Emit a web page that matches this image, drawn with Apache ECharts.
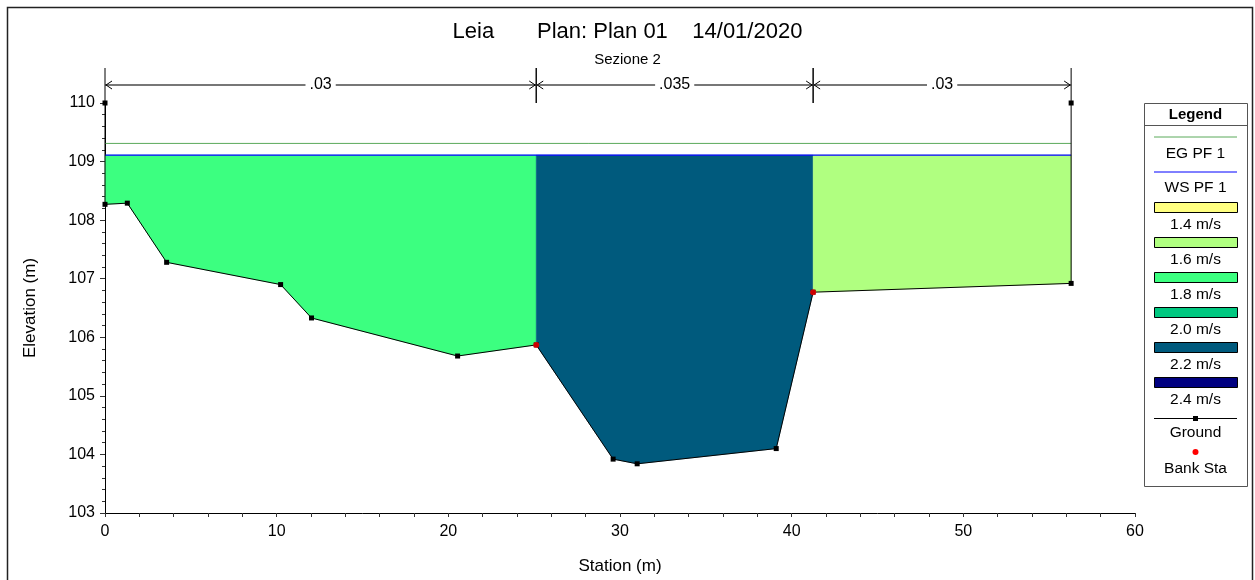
<!DOCTYPE html>
<html>
<head>
<meta charset="utf-8">
<script src="https://cdn.jsdelivr.net/npm/echarts@6/dist/echarts.min.js"></script>
<style>
  html, body { margin: 0; padding: 0; background: #fff; }
  #chart { width: 1255px; height: 580px; }
</style>
</head>
<body>
<div id="chart"></div>
<script>
// Cross section "Sezione 2" – ground profile, water surface and velocity zones
const groundStation = [0, 0, 1.30, 3.59, 10.23, 12.03, 20.54, 25.12, 29.6, 31.0, 39.1, 41.25, 56.28, 56.28];
const groundElev    = [110.0, 108.27, 108.29, 107.28, 106.90, 106.33, 105.68, 105.87, 103.92, 103.84, 104.10, 106.77, 106.92, 110.0];
const bankStations  = [25.12, 41.25];
const bankElev      = [105.87, 106.77];
const wsElev = 109.11;   // WS PF 1
const egElev = 109.31;   // EG PF 1

// Manning's n subdivisions
const nBreaks = [0, 25.12, 41.25, 56.28];
const nLabels = ['.03', '.035', '.03'];
const subVelocity = [1.8, 2.2, 1.6];

// Velocity classes
const velClasses = [1.4, 1.6, 1.8, 2.0, 2.2, 2.4];
const velColors  = ['#FFFF80', '#B0FF80', '#3CFF80', '#00C880', '#005A7D', '#000080'];
const velLabels  = ['1.4 m/s', '1.6 m/s', '1.8 m/s', '2.0 m/s', '2.2 m/s', '2.4 m/s'];

const xTicks = [0, 10, 20, 30, 40, 50, 60];
const yTicks = [103, 104, 105, 106, 107, 108, 109, 110];

const FONT = '"Liberation Sans", Arial, sans-serif';
const EG_COLOR = '#5BAA5B';
const groundPts = groundStation.map((s, i) => [s, groundElev[i]]);
const colorFor = v => velColors[velClasses.indexOf(v)];

// Polygon between water surface and ground for one subsection
function subsectionPolygon(a, b) {
  const pts = [[a, wsElev]];
  groundPts.forEach(p => { if (p[0] >= a && p[0] <= b && p[1] <= wsElev) pts.push(p); });
  pts.push([b, wsElev]);
  return pts;
}

// Legend drawn as a boxed column: symbol above, label below
const LX = 1144, LY = 103, LW = 103, LH = 383;
const legendEls = [
  { type: 'rect', shape: { x: LX + 0.5, y: LY + 0.5, width: LW, height: LH }, style: { fill: '#fff', stroke: '#555', lineWidth: 1 } },
  { type: 'line', shape: { x1: LX, y1: LY + 22.5, x2: LX + LW, y2: LY + 22.5 }, style: { stroke: '#555', lineWidth: 1 } },
  { type: 'text', x: LX + LW / 2, y: LY + 11.5, style: { text: 'Legend', font: 'bold 15px ' + FONT, fill: '#000', align: 'center', verticalAlign: 'middle' } }
];
const symX1 = LX + 10, symX2 = LX + 93, cx = LX + LW / 2;
let yy = 137;
function legendText(t, y) {
  legendEls.push({ type: 'text', x: cx, y: y, style: { text: t, font: '15.5px ' + FONT, fill: '#000', align: 'center', verticalAlign: 'middle' } });
}
legendEls.push({ type: 'line', shape: { x1: symX1, y1: yy, x2: symX2, y2: yy }, style: { stroke: EG_COLOR, lineWidth: 1 } });
legendText('EG PF 1', yy + 17);
yy += 35;
legendEls.push({ type: 'line', shape: { x1: symX1, y1: yy, x2: symX2, y2: yy }, style: { stroke: '#0000FF', lineWidth: 1 } });
legendText('WS PF 1', yy + 16);
yy += 30;
velLabels.forEach((lab, i) => {
  legendEls.push({ type: 'rect', shape: { x: symX1 + 0.5, y: yy + 0.5, width: symX2 - symX1, height: 10 }, style: { fill: velColors[i], stroke: '#000', lineWidth: 1 } });
  legendText(lab, yy + 23);
  yy += 35;
});
yy += 6;
legendEls.push({ type: 'line', shape: { x1: symX1, y1: yy + 0.5, x2: symX2, y2: yy + 0.5 }, style: { stroke: '#000', lineWidth: 1 } });
legendEls.push({ type: 'rect', shape: { x: cx - 2.5, y: yy - 2, width: 5, height: 5 }, style: { fill: '#000' } });
legendText('Ground', yy + 15);
legendEls.push({ type: 'circle', shape: { cx: cx, cy: yy + 34, r: 3 }, style: { fill: '#FF0000' } });
legendText('Bank Sta', yy + 51);

const chart = echarts.init(document.getElementById('chart'));
chart.setOption({
  animation: false,
  backgroundColor: '#fff',
  title: [
    { text: 'Leia       Plan: Plan 01    14/01/2020', left: 'center', top: 16,
      textStyle: { fontFamily: FONT, fontSize: 22, fontWeight: 'normal', color: '#000' } },
    { text: 'Sezione 2', left: 'center', top: 47,
      textStyle: { fontFamily: FONT, fontSize: 15, fontWeight: 'normal', color: '#000' } }
  ],
  grid: { left: 105, right: 120, top: 103, bottom: 62, containLabel: false },
  xAxis: {
    type: 'value', min: xTicks[0], max: xTicks[xTicks.length - 1], interval: 10,
    name: 'Station (m)', nameLocation: 'middle', nameGap: 45,
    nameTextStyle: { fontFamily: FONT, fontSize: 17, color: '#000' },
    axisLine: { show: true, lineStyle: { color: '#000', width: 1 } },
    axisTick: { show: true, length: 4, lineStyle: { color: '#333' } },
    minorTick: { show: true, splitNumber: 5, length: 4, lineStyle: { color: '#333' } },
    splitLine: { show: false },
    axisLabel: { fontFamily: FONT, fontSize: 16, color: '#000', margin: 11 }
  },
  yAxis: {
    type: 'value', min: yTicks[0], max: yTicks[yTicks.length - 1], interval: 1,
    name: 'Elevation (m)', nameLocation: 'middle', nameGap: 66,
    nameTextStyle: { fontFamily: FONT, fontSize: 17, color: '#000' },
    axisLine: { show: true, lineStyle: { color: '#000', width: 1 } },
    axisTick: { show: true, length: 5, lineStyle: { color: '#333' } },
    minorTick: { show: true, splitNumber: 5, length: 3, lineStyle: { color: '#333' } },
    splitLine: { show: false },
    axisLabel: { fontFamily: FONT, fontSize: 16, color: '#000', margin: 10 }
  },
  graphic: [
    { type: 'rect', z: -10, silent: true, shape: { x: 7.5, y: 7.5, width: 1245, height: 600 }, style: { fill: 'none', stroke: '#222', lineWidth: 1.5 } },
    { type: 'group', children: legendEls }
  ],
  series: [
    {
      // flow areas coloured by velocity class
      type: 'custom', name: 'flow', z: 1,
      data: subVelocity.map((v, i) => [nBreaks[i], nBreaks[i + 1], v]),
      encode: { x: [0, 1] },
      renderItem: function (params, api) {
        const a = api.value(0), b = api.value(1), v = api.value(2);
        const pts = subsectionPolygon(a, b).map(p => api.coord(p));
        return { type: 'polygon', shape: { points: pts }, style: { fill: colorFor(v), stroke: colorFor(v), lineWidth: 0.5 } };
      }
    },
    {
      type: 'line', name: 'EG PF 1', z: 3, symbol: 'none',
      data: [[nBreaks[0], egElev], [nBreaks[nBreaks.length - 1], egElev]],
      lineStyle: { color: EG_COLOR, width: 1 }
    },
    {
      type: 'line', name: 'WS PF 1', z: 3, symbol: 'none',
      data: [[nBreaks[0], wsElev], [nBreaks[nBreaks.length - 1], wsElev]],
      lineStyle: { color: '#0000FF', width: 1.2 }
    },
    {
      type: 'line', name: 'Ground', z: 4,
      data: groundPts,
      symbol: 'rect', symbolSize: 5, showAllSymbol: true,
      itemStyle: { color: '#000' },
      lineStyle: { color: '#000', width: 1 }
    },
    {
      type: 'scatter', name: 'Bank Sta', z: 5,
      data: bankStations.map((s, i) => [s, bankElev[i]]),
      symbol: 'circle', symbolSize: 6,
      itemStyle: { color: '#FF0000' }
    },
    {
      // Manning's n dimension lines above the section
      type: 'custom', name: 'n values', z: 6, clip: false,
      data: nLabels.map((l, i) => [nBreaks[i], nBreaks[i + 1]]),
      encode: { x: [0, 1] },
      renderItem: function (params, api) {
        const top = yTicks[yTicks.length - 1];
        const p1 = api.coord([api.value(0), top]);
        const p2 = api.coord([api.value(1), top]);
        const ly = p1[1] - 18, barTop = p1[1] - 35;
        const grey = '#777';
        const children = [
          { type: 'line', shape: { x1: p1[0], y1: ly, x2: p2[0], y2: ly }, style: { stroke: grey, lineWidth: 2 } },
          { type: 'polyline', shape: { points: [[p1[0] + 7, ly - 4], [p1[0] + 1, ly], [p1[0] + 7, ly + 4]] }, style: { stroke: '#000', lineWidth: 1, fill: 'none' } },
          { type: 'polyline', shape: { points: [[p2[0] - 7, ly - 4], [p2[0] - 1, ly], [p2[0] - 7, ly + 4]] }, style: { stroke: '#000', lineWidth: 1, fill: 'none' } },
          { type: 'line', shape: { x1: p1[0], y1: barTop, x2: p1[0], y2: p1[1] }, style: { stroke: '#000', lineWidth: 1 } },
          { type: 'line', shape: { x1: p2[0], y1: barTop, x2: p2[0], y2: p2[1] }, style: { stroke: '#000', lineWidth: 1 } },
          { type: 'text', x: (p1[0] + p2[0]) / 2, y: ly, style: { text: nLabels[params.dataIndex], font: '16px ' + FONT, fill: '#000', align: 'center', verticalAlign: 'middle', backgroundColor: '#fff', padding: [0, 4] } }
        ];
        return { type: 'group', children: children };
      }
    }
  ]
});
</script>
</body>
</html>
